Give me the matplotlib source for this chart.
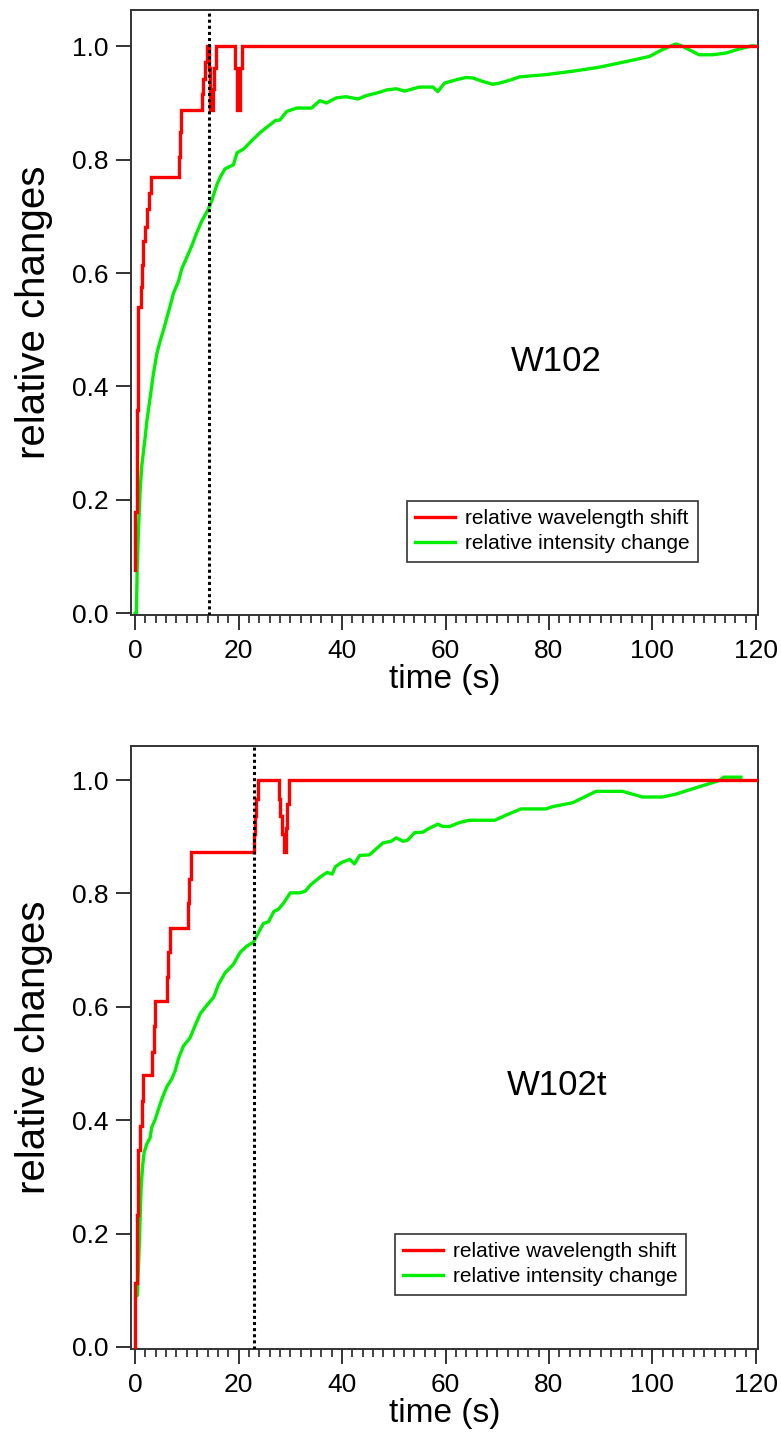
import matplotlib
matplotlib.use("Agg")
import matplotlib.pyplot as plt
from matplotlib.ticker import MultipleLocator

plt.rcParams['font.family'] = ['Liberation Sans', 'DejaVu Sans']

# ---------------- data: top panel (W102) ----------------
top_red_t = [0.0, 0.05, 0.32, 0.65, 1.1, 1.35, 1.6, 1.95, 2.25, 2.65, 3.0, 8.4, 8.7, 8.9,
             12.9, 13.2, 13.5, 13.9, 14.2, 14.5, 15.0, 15.3, 15.6, 19.4, 19.7, 20.3, 20.7, 120.0]
top_red_v = [0.076, 0.178, 0.359, 0.54, 0.575, 0.614, 0.657, 0.681, 0.713, 0.741, 0.770, 0.805, 0.848, 0.887,
             0.915, 0.943, 0.972, 1.0, 0.961, 0.887, 0.925, 0.961, 1.0, 0.961, 0.887, 0.961, 1.0, 1.0]

top_green_t = [0.0, 0.25, 0.4, 0.65, 0.97, 1.29, 1.61, 1.94, 2.26, 2.58, 2.9, 3.2, 3.55, 3.87, 4.2, 4.8,
               5.5, 6.1, 6.8, 7.4, 8.4, 9.0, 10.0, 11.0, 11.9, 12.9, 14.0, 14.8, 15.8, 16.5, 17.4, 19.0,
               19.7, 21.0, 22.6, 24.2, 27.1, 28.0, 29.3, 31.2, 34.1, 35.7, 37.0, 38.9, 40.8, 43.1, 44.7,
               47.3, 48.6, 50.5, 52.1, 53.7, 55.0, 57.6, 58.5, 59.8, 62.1, 64.0, 65.3, 67.2, 69.1, 70.4,
               72.4, 74.3, 79.4, 84.6, 89.7, 94.9, 99.4, 101.9, 104.5, 105.8, 109.0, 111.6, 114.2, 116.7,
               119.3, 120.0]
top_green_v = [0.0, 0.0, 0.076, 0.147, 0.217, 0.26, 0.285, 0.31, 0.338, 0.359, 0.38, 0.40, 0.423, 0.44,
               0.458, 0.479, 0.5, 0.52, 0.543, 0.564, 0.586, 0.607, 0.628, 0.649, 0.671, 0.692, 0.71,
               0.727, 0.756, 0.77, 0.784, 0.791, 0.812, 0.819, 0.834, 0.848, 0.869, 0.870, 0.885, 0.891,
               0.891, 0.904, 0.900, 0.909, 0.911, 0.907, 0.913, 0.919, 0.923, 0.925, 0.921, 0.925, 0.928,
               0.928, 0.920, 0.935, 0.941, 0.945, 0.944, 0.938, 0.933, 0.935, 0.940, 0.946, 0.950, 0.956,
               0.963, 0.973, 0.982, 0.994, 1.004, 1.0, 0.985, 0.985, 0.988, 0.995, 1.001, 1.0]

top_marker_t = 14.2
top_label = "W102"

# ---------------- data: bottom panel (W102t) ----------------
bot_red_t = [0.0, 0.06, 0.32, 0.65, 0.97, 1.29, 1.61, 3.25, 3.6, 3.87, 6.13, 6.4, 6.77, 10.2, 10.45, 10.8,
             22.9, 23.1, 23.4, 23.7, 27.9, 28.1, 28.4, 28.7, 29.1, 29.4, 29.8, 120.0]
bot_red_v = [0.0, 0.113, 0.232, 0.347, 0.39, 0.433, 0.48, 0.52, 0.567, 0.61, 0.653, 0.696, 0.739, 0.783,
             0.826, 0.873, 0.905, 0.937, 0.966, 1.0, 0.966, 0.937, 0.905, 0.873, 0.915, 0.957, 1.0, 1.0]

bot_green_t = [0.3, 0.45, 0.84, 1.16, 1.48, 1.74, 2.26, 2.9, 3.2, 3.87, 4.5, 5.16, 6.13, 7.1, 7.74, 8.39,
               9.35, 10.6, 11.6, 12.6, 13.9, 15.2, 16.1, 17.4, 19.0, 20.3, 21.6, 22.9, 23.9, 24.8, 25.8,
               26.8, 27.7, 28.7, 30.0, 31.9, 32.9, 33.9, 35.8, 37.1, 38.1, 38.7, 40.0, 41.5, 42.4, 43.4,
               45.3, 47.9, 49.5, 50.5, 51.8, 52.7, 54.0, 55.6, 56.9, 58.5, 59.5, 60.8, 62.7, 64.6, 69.5,
               71.7, 74.6, 79.4, 80.7, 84.6, 89.1, 94.2, 98.1, 101.9, 104.5, 109.0, 112.9, 113.8, 117.1]
bot_green_v = [0.09, 0.091, 0.189, 0.282, 0.322, 0.343, 0.358, 0.369, 0.387, 0.401, 0.419, 0.437, 0.459,
               0.473, 0.487, 0.509, 0.531, 0.545, 0.567, 0.588, 0.603, 0.617, 0.639, 0.66, 0.675, 0.696,
               0.707, 0.714, 0.732, 0.747, 0.75, 0.768, 0.772, 0.783, 0.801, 0.801, 0.804, 0.815, 0.829,
               0.837, 0.834, 0.847, 0.855, 0.860, 0.852, 0.867, 0.868, 0.889, 0.892, 0.898, 0.892, 0.894,
               0.907, 0.908, 0.915, 0.922, 0.918, 0.918, 0.925, 0.929, 0.929, 0.938, 0.949, 0.949, 0.953,
               0.960, 0.980, 0.980, 0.970, 0.970, 0.975, 0.988, 0.999, 1.005, 1.005]

bot_marker_t = 23.0
bot_label = "W102t"

series_names = ["relative wavelength shift", "relative intensity change"]
x_label = "time (s)"
y_label = "relative changes"

RED = "#ff0000"
GREEN = "#00ee00"
W, H = 781, 1446
fig = plt.figure(figsize=(W / 100, H / 100), dpi=100)


def make_panel(rect, red_t, red_v, green_t, green_v, marker_t, label, label_xy, leg_anchor, ylim):
    ax = fig.add_axes(rect)
    ax.plot(red_t, red_v, color=RED, lw=2.4, drawstyle="steps-post", label=series_names[0],
            solid_joinstyle="miter", zorder=3)
    ax.plot(green_t, green_v, color=GREEN, lw=2.4, label=series_names[1], zorder=2)
    ax.axvline(marker_t, color="black", lw=2.2, linestyle=(0, (1, 1)), zorder=4)
    ax.set_xlim(-0.8, 120.4)
    ax.set_ylim(*ylim)
    ax.xaxis.set_major_locator(MultipleLocator(20))
    ax.xaxis.set_minor_locator(MultipleLocator(2))
    ax.yaxis.set_major_locator(MultipleLocator(0.2))
    ax.yaxis.set_major_formatter(plt.FormatStrFormatter("%.1f"))
    ax.tick_params(axis="both", which="major", direction="out", length=11, width=1.3,
                   labelsize=19, color="#222222", pad=5)
    ax.tick_params(axis="x", which="minor", direction="out", length=6, width=1.2, color="#222222")
    ax.tick_params(axis="x", which="major", pad=6)
    for s in ax.spines.values():
        s.set_color("#333333")
        s.set_linewidth(1.4)
    ax.set_xlabel(x_label, fontsize=24, labelpad=1)
    ax.set_ylabel(y_label, fontsize=29)
    ax.yaxis.set_label_coords(-0.125, 0.5)
    ax.text(label_xy[0], label_xy[1], label, fontsize=25, ha="center", va="center")
    leg = ax.legend(loc="lower left", bbox_to_anchor=leg_anchor, borderaxespad=0,
                    fontsize=15, frameon=True, fancybox=False, edgecolor="black",
                    handlelength=1.9, handletextpad=0.5, borderpad=0.4, labelspacing=0.3)
    leg.get_frame().set_linewidth(1.2)
    return ax


make_panel([0.1677, 0.5747, 0.8028, 0.4184], top_red_t, top_red_v, top_green_t, top_green_v,
           top_marker_t, top_label, (81.5, 0.444), (0.440, 0.088), (-0.003, 1.064))
make_panel([0.1677, 0.0671, 0.8028, 0.4170], bot_red_t, bot_red_v, bot_green_t, bot_green_v,
           bot_marker_t, bot_label, (81.5, 0.462), (0.421, 0.090), (-0.0035, 1.06))

fig.savefig("out.png", dpi=100)
